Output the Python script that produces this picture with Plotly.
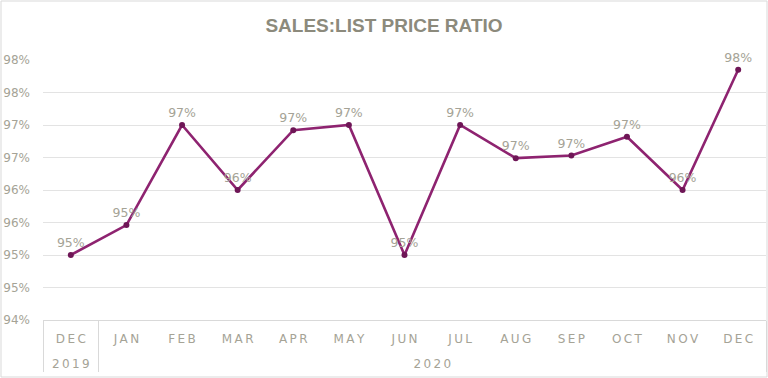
import plotly.graph_objects as go

years = ["2019"] + ["2020"] * 12
months = ["DEC", "JAN", "FEB", "MAR", "APR", "MAY", "JUN", "JUL", "AUG", "SEP", "OCT", "NOV", "DEC"]
ratio = [95.0, 95.46, 97.0, 96.0, 96.92, 97.0, 95.0, 97.0, 96.49, 96.53, 96.82, 96.0, 97.85]
point_labels = ["95%", "95%", "97%", "96%", "97%", "97%", "95%", "97%", "97%", "97%", "97%", "96%", "98%"]
y_tickvals = [94.0, 94.5, 95.0, 95.5, 96.0, 96.5, 97.0, 97.5, 98.0]
y_ticktext = ["94%", "95%", "95%", "96%", "96%", "97%", "97%", "98%", "98%"]

W, H = 768, 378
ML, MR, MT, MB = 43, 2, 60, 58
TEXT = "#a5a396"

def spaced(s):
    return "\u2009".join(s)

# make every (year, month) inner label unique so plotly keeps trace order
seen = {}
inner = []
for m in months:
    k = seen.get(m, 0)
    seen[m] = k + 1
    inner.append(spaced(m) + "\u200b" * k + "<br><span style='font-size:17px'> </span>")
outer = [spaced(y) for y in years]

fig = go.Figure()
fig.add_trace(go.Scatter(
    x=[outer, inner],
    y=ratio,
    mode="lines+markers+text",
    line=dict(color="#8e2370", width=2.6),
    marker=dict(color="#6e1656", size=6),
    text=point_labels,
    textposition="top center",
    textfont=dict(family="DejaVu Sans", size=12.5, color=TEXT),
    cliponaxis=False,
    hoverinfo="skip",
))

fig.update_layout(
    width=W, height=H,
    margin=dict(l=ML, r=MR, t=MT, b=MB, pad=0, autoexpand=False),
    paper_bgcolor="white", plot_bgcolor="white",
    showlegend=False,
    title=dict(text="<b>SALES:LIST PRICE RATIO</b>", x=0.5, xanchor="center", y=1 - 25 / H, yanchor="middle",
               font=dict(family="Liberation Sans", size=19, color="#8c8a7c")),
    font=dict(family="DejaVu Sans", color=TEXT),
)
fig.update_yaxes(
    range=[94, 98], tickvals=y_tickvals, ticktext=y_ticktext,
    showgrid=True, gridcolor="#e3e3e3", gridwidth=1, zeroline=False,
    tickfont=dict(family="DejaVu Sans", size=12, color=TEXT),
    ticks="", ticklabelstandoff=12, fixedrange=True, automargin=False,
)
fig.update_xaxes(
    type="multicategory", range=[-0.5, len(months) - 0.5],
    showgrid=False, showline=True, linecolor="#d9d9d9", linewidth=1,
    showdividers=True, dividercolor="#d9d9d9", dividerwidth=1,
    tickfont=dict(family="DejaVu Sans", size=12, color=TEXT),
    ticks="", ticklabelstandoff=8, fixedrange=True, automargin=False,
)
# outer chart border
fig.add_shape(type="rect", xref="paper", yref="paper",
              x0=-(ML - 1) / (W - ML - MR), x1=1 + (MR - 1) / (W - ML - MR),
              y0=-(MB - 1) / (H - MT - MB), y1=1 + (MT - 1) / (H - MT - MB),
              line=dict(color="#d9d9d9", width=1), layer="below")

fig.write_html("out.html", config={"responsive": False, "displayModeBar": False},
               post_script="document.body.style.margin='0';document.body.style.overflow='hidden';")
